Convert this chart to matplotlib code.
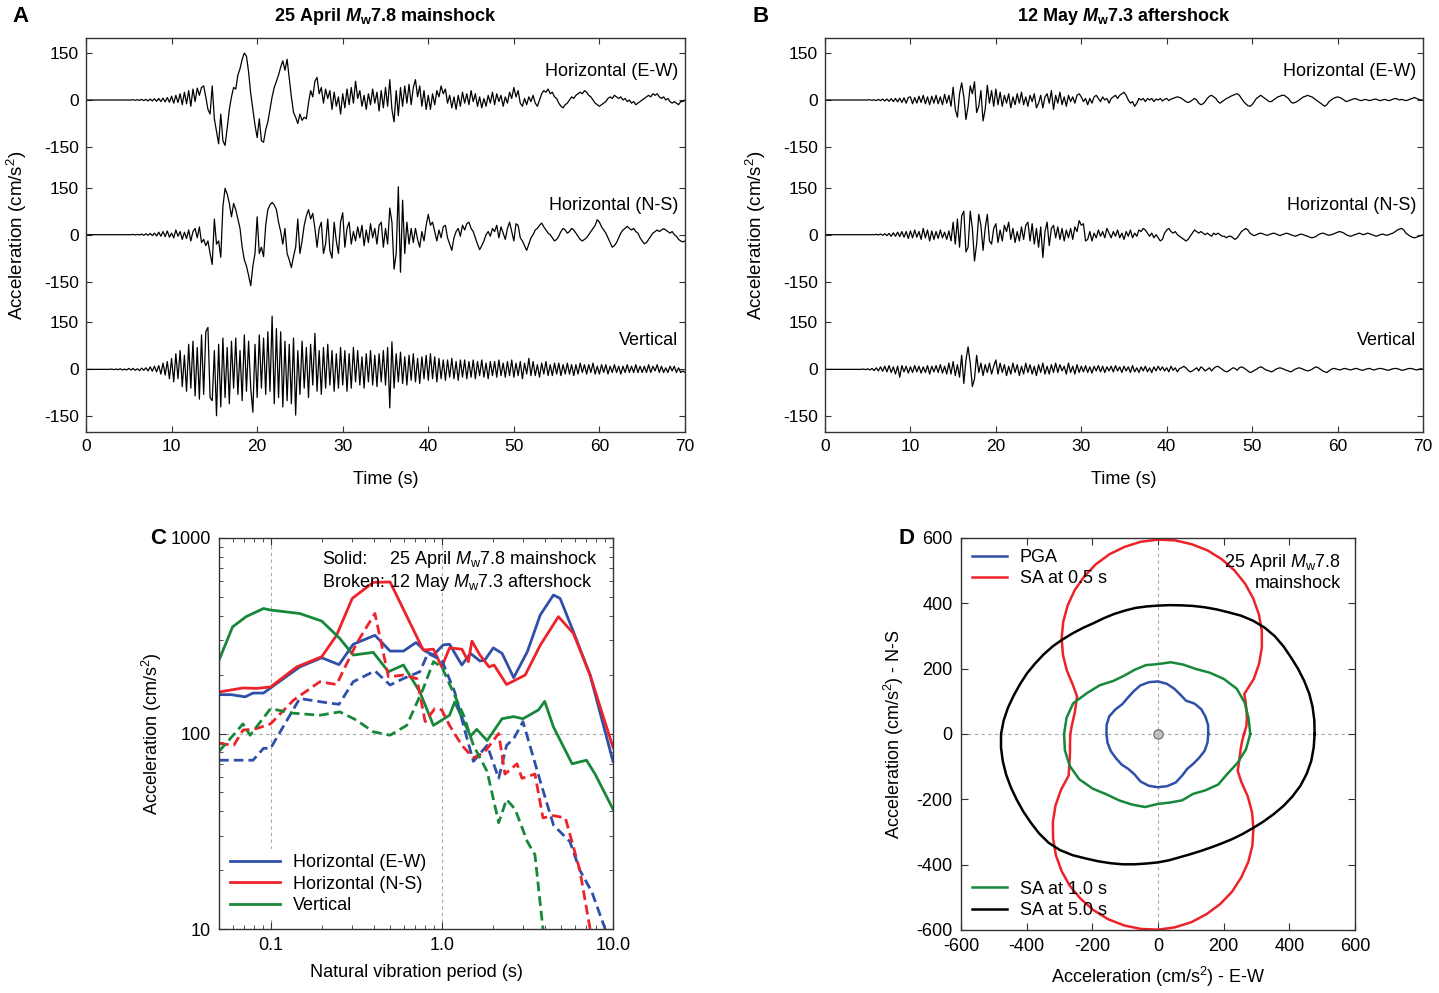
import numpy as np
import matplotlib
matplotlib.use("Agg")
import matplotlib.pyplot as plt
from matplotlib import font_manager

# fonts
names = {f.name for f in font_manager.fontManager.ttflist}
NARROW = "Liberation Sans Narrow" if "Liberation Sans Narrow" in names else "Liberation Sans"
plt.rcParams["font.family"] = ["Liberation Sans", "DejaVu Sans"]
plt.rcParams["mathtext.fontset"] = "custom"
plt.rcParams["mathtext.rm"] = "Liberation Sans"
plt.rcParams["mathtext.it"] = "Liberation Sans:italic"
plt.rcParams["mathtext.bf"] = "Liberation Sans:bold"
plt.rcParams["mathtext.bfit"] = "Liberation Sans:italic:bold"
plt.rcParams["axes.unicode_minus"] = False

BLUE = "#2f4fa8"
RED = "#ee2229"
GREEN = "#17873a"

# ---------------- accelerograms, sampled every 0.25 s from 0 to 70 s ----------------
DT = 0.25
ms_ew = [0, 0, 0, 0, 0, 0, 0, 0, 0, 0, 0, 0, 0, 0, 0, 0, 0, 0, 0, 0,
         0, 0, 1, -1, 1, -1, 2, -2, 2, -3, 3, -3, 4, -4, 5, -5, 6, -6, 8, -7,
         12, -10, 15, -8, 20, -15, 25, -12, 30, -20, 35, -5, 38, 15, 40, 45, 10, -30, -45, 45,
         -60, -100, -140, -45, -130, -145, -90, -30, 10, 40, 35, 80, 100, 130, 150, 140, 90, 20, -30, -80,
         -120, -60, -130, -135, -95, -70, -30, 10, 40, 60, 80, 105, 125, 95, 130, 70, 10, -40, -55, -75,
         -45, -65, -55, -60, -10, 30, 10, 60, 72, 20, 40, -10, 35, 5, 30, -30, 25, -20, 10, -45,
         20, -25, 35, -15, 40, -10, 60, 5, 30, -20, 15, -30, 20, -15, 35, -10, 25, -35, 30, -25,
         40, -20, 65, -30, -70, 30, -50, 40, -20, 45, -10, 50, -15, 40, 65, 10, 45, -20, 30, -30,
         15, -30, 20, -15, 30, 10, 45, 20, 35, -10, 15, -25, 10, -30, 15, -20, 25, -10, 20, -15,
         30, -5, 20, -20, 10, -25, 5, -20, 15, -10, 25, -15, 20, -5, 15, -20, 10, -10, 25, 5,
         40, 10, 30, -10, -20, 5, -15, 10, -5, 15, -10, -20, 0, 20, 30, 25, 35, 20, 25, 10,
         5, -10, -20, -25, -15, -10, 0, 10, 5, 15, 20, 25, 20, 30, 25, 15, 10, 0, -10, -15,
         -20, -15, -10, -5, 5, 10, 5, 15, 10, 5, 10, 0, 5, -5, 0, -10, -5, -15, -10, -5,
         0, 5, 10, 15, 10, 20, 15, 20, 10, 5, 10, 0, 5, -5, -10, -5, -10, -15, -5, -5,
         0]
ms_ns = [0, 0, 0, 0, 0, 0, 0, 0, 0, 0, 0, 0, 0, 0, 0, 0, 0, 0, 0, 0,
         0, 0, 1, -1, 1, -1, 2, -2, 3, -2, 4, -3, 5, -4, 8, -5, 10, -6, 12, -8,
         5, -10, 15, -5, 10, -15, 8, -12, 15, -20, 10, 20, -10, 25, -25, -15, -35, -20, -60, -95,
         50, -30, -20, -72, 90, 148, 130, 100, 57, 100, 80, 50, 20, -40, -80, -100, -130, -163, -100, -60,
         57, -60, -40, -70, 30, 80, 95, 103, 95, 80, 40, 10, -30, 20, -60, -80, -105, -70, -40, 50,
         -60, -20, 30, 60, 80, 50, 68, 20, -40, 20, 40, -60, -30, 50, -50, -75, 40, -20, -60, 40,
         70, -40, 20, 40, -30, 10, -20, 25, -10, 30, -35, 15, -25, 35, -10, 20, -30, 30, 40, -40,
         20, -30, 85, 40, -110, -60, 153, -120, 110, -60, 40, -30, 20, -25, 20, -15, -40, 10, -20, 30,
         65, 30, 40, 10, -20, 15, -10, 25, 30, -10, -30, -50, -10, 10, 20, -5, 30, 15, 35, 40,
         20, 10, -10, -30, -48, -35, -20, 0, 10, -5, 20, 10, 30, -10, 25, 5, -15, 20, 40, 10,
         -20, 35, 30, -10, -20, -35, -50, -30, -10, 0, 15, 20, 30, 37, 25, 15, 5, 0, -10, -20,
         -15, -5, 10, 20, 15, 5, 10, 20, 15, 5, -5, -15, -20, -15, -10, 0, 10, 20, 30, 48,
         40, 25, 15, 5, -10, -25, -40, -35, -25, -10, 5, 15, 20, 27, 20, 15, 20, 10, 5, -10,
         -20, -29, -25, -15, -5, 5, 10, 15, 10, 15, 19, 15, 10, 5, 10, 0, -5, -15, -20, -23,
         -20]
ms_ud = [0, 0, 0, 0, 0, 0, 0, 0, 0, 0, 0, 0, 1, -1, 1, -1, 2, -2, 1, -2,
         3, -2, 3, -3, 2, -4, 4, -3, 5, -5, 8, -6, 10, -8, 12, -15, 20, -18, 25, -30,
         35, -40, 50, -30, 60, -55, 45, -70, 80, -60, 90, -85, 70, -95, 110, -80, 120, 134, -90, -100,
         60, -148, 80, -120, 100, -90, 70, -110, 90, -60, 100, -80, 60, -100, 110, -70, 90, -60, -137, 80,
         -90, 110, -60, 100, -80, 120, -70, 170, -110, 130, -90, 120, -120, 90, -100, 80, -110, 100, -146, 60,
         -80, 90, -60, 70, -90, 80, -50, 115, -70, 60, -80, 70, -60, 80, -50, 60, -70, 50, -60, 70,
         -50, 60, -70, 50, -60, 70, -40, 60, -50, 40, -60, 50, -40, 60, -50, 45, -55, 50, -40, 60,
         -50, 70, -123, 88, -60, 50, -40, 55, -45, 40, -50, 45, -35, 50, -40, 35, -45, 40, -30, 45,
         -35, 50, -30, 40, -40, 35, -30, 30, -35, 30, -25, 35, -30, 25, -35, 30, -25, 30, -30, 25,
         -25, 30, -30, 25, -20, 30, -25, 20, -30, 25, -20, 25, -25, 30, -20, 20, -25, 25, -20, 30,
         -25, 20, -20, 25, -30, 20, -15, 35, -20, 25, -20, 15, -25, 20, -15, 25, -20, 15, -20, 20,
         -15, 20, -20, 15, -15, 20, -15, 15, -20, 15, -15, 20, -10, 15, -15, 15, -10, 20, -15, 10,
         -15, 15, -10, 15, -15, 10, -10, 15, -10, 10, -15, 10, -10, 15, -10, 10, -10, 15, -10, 10,
         -10, 10, -10, 15, -10, 10, -5, 15, -10, 10, -10, 5, -10, 10, -5, 10, -10, 5, -10, -5,
         -10]
as_ew = [0, 0, 0, 0, 0, 0, 0, 0, 0, 0, 0, 0, 0, 0, 0, 0, 0, 0, 0, 0,
         0, 1, -1, 1, -2, 2, -2, 3, -3, 3, -4, 4, -5, 5, -6, 6, -8, 7, -10, 8,
         10, -12, 8, -10, 12, -8, 15, -12, 10, -15, 12, -10, 15, -12, 10, -15, 18, -10, 15, -20,
         41, -30, -55, 20, 55, 10, -62, -20, 45, 20, 58, -40, -20, 30, -67, -30, 47, -10, 30, -20,
         35, -15, 25, -20, 15, -10, 20, -25, 10, -15, 20, -10, 25, -15, 10, -20, 15, -5, 20, -25,
         -10, 15, -25, 10, 20, -10, 30, -30, 15, -10, 25, -15, 10, -20, 15, -5, 10, -10, 15, 20,
         10, -5, 5, -15, 5, -10, 10, 15, 5, -5, 10, 0, 5, -10, 5, 10, 15, 5, 15, 20,
         25, 15, 0, -10, -5, -20, -10, 5, 0, 5, -5, 5, 0, 5, -5, 3, 0, 5, -3, 2,
         5, -2, 3, 5, 8, 10, 8, 5, 0, -5, -8, -5, 0, 5, 0, -10, -15, -12, -5, 5,
         12, 15, 10, 5, -5, -10, -5, 0, 5, 8, 12, 15, 18, 20, 15, 5, -5, -12, -18, -20,
         -15, -5, 5, 10, 15, 10, 5, 0, -5, -5, 0, 5, 10, 12, 15, 15, 10, 5, -5, -10,
         -8, -5, 0, 5, 10, 12, 15, 12, 10, 5, 0, -5, -10, -15, -20, -15, -5, 0, 5, 8,
         10, 8, 5, 0, -5, -3, 0, 2, 5, 3, 0, -2, 0, 2, 0, -2, 0, 2, 3, 0,
         -2, 0, 2, 0, -2, 0, 3, 5, 3, 0, 2, 0, -2, 0, 3, 5, 8, 5, 2, 0,
         0]
as_ns = [0, 0, 0, 0, 0, 0, 0, 0, 0, 0, 0, 0, 0, 0, 0, 0, 0, 0, 0, 0,
         0, 0, 0, 0, 1, -1, 2, -2, 3, -3, 4, -5, 6, -5, 8, -6, 10, -8, 10, -12,
         12, -10, 15, -8, 10, -15, 20, -10, 15, -20, 12, -15, 10, -12, 15, -10, 8, -15, 12, -20,
         40, -30, 50, -40, 60, 75, -55, -40, 75, 20, -84, -30, 65, 30, -50, 20, 65, -20, -30, 20,
         35, -25, 15, -20, 30, 10, 40, -15, 20, -25, 10, -20, 25, -15, 30, 40, -20, 35, -30, 20,
         -40, 25, -73, 10, 40, -35, 20, 30, -10, 25, -15, 20, -20, 15, -10, 20, -15, 25, 10, 45,
         30, 35, -20, -15, 10, -20, 5, -10, 15, -5, 10, -10, 20, 5, -10, 10, -5, 15, -10, 5,
         -15, 10, -5, 15, -10, 5, -5, 15, 10, 20, 15, 5, -5, 5, -10, 0, -10, -20, -15, 5,
         15, 20, 10, 5, 10, 0, -5, -10, -15, -20, -15, -5, 5, 15, 10, 5, 10, 5, 0, 5,
         0, -5, 5, 0, 5, 0, -5, -5, -10, -5, -5, -10, -15, -10, 0, 10, 15, 20, 15, 5,
         0, -3, 0, 3, 5, 3, 0, -2, 0, 3, 5, 3, 0, -3, 0, 2, 5, 3, 0, -2,
         -5, -3, 0, 2, 0, -3, -5, -8, -10, -8, -5, 0, 3, 5, 3, 0, -2, 0, 2, 5,
         8, 10, 8, 5, 0, -3, -5, -3, 0, 2, 5, 3, 0, 2, 5, 3, 0, -2, -5, -3,
         0, 2, 0, -2, 0, 3, 5, 10, 15, 18, 20, 15, 5, 0, -5, -8, -10, -8, -5, -3,
         0]
as_ud = [0, 0, 0, 0, 0, 0, 0, 0, 0, 0, 0, 0, 0, 0, 0, 0, 0, 0, 1, -1,
         2, -2, 3, -4, 5, -5, 8, -6, 10, -8, 12, -10, 8, -15, 10, -25, 12, -8, 10, -12,
         8, -10, 12, -8, 10, -12, 8, -10, 12, -15, 10, -8, 12, -10, 15, -12, 10, -15, 20, -15,
         25, -20, 15, -25, 45, -45, 30, 72, 20, -55, -30, 45, -10, 20, -20, 15, -10, 20, -15, 10,
         30, -15, 20, -10, 15, -20, 10, -15, 20, -10, 15, -20, 10, -15, 20, -10, 15, -15, 10, -20,
         15, -10, 20, -15, 10, -15, 15, -10, 20, -10, 15, -5, 10, -15, 20, -10, 10, -15, 15, -10,
         10, -8, 12, -10, 8, -12, 10, -5, 12, -8, 10, -10, 8, -5, 10, -8, 12, -5, 8, -10,
         10, -5, 8, -10, 12, -8, 5, -10, 8, -5, 10, -8, 5, -10, 8, -5, 10, -3, 8, -5,
         5, -8, 10, -3, 5, -8, 3, 5, 10, 5, -3, -8, -5, 0, 5, -5, 8, 3, -5, 0,
         5, -5, 3, 8, 10, 5, 0, -5, -8, -5, 0, 5, 3, -3, 5, 8, 5, 0, -5, -10,
         -8, -3, 0, 5, 8, 5, 0, -3, -5, -8, -5, 0, 3, 5, 3, 0, -3, -5, -8, -5,
         0, 3, 5, 3, 0, -3, -5, -3, 0, 5, 8, 5, 0, -5, -8, -10, -5, 0, 3, 2,
         0, -2, 0, 3, 2, 0, -2, 0, 2, 3, 0, -2, -3, 0, 2, 3, 0, -2, 0, 2,
         3, 2, 0, -2, -3, 0, 2, 3, 2, 0, -3, -2, 0, 2, 3, 2, 0, -2, 0, 2,
         0]

comp_labels = ["Horizontal (E-W)", "Horizontal (N-S)", "Vertical"]
offsets = [860, 430, 0]

# ---------------- response spectra (period s, acceleration cm/s2) ----------------
T_ms_ew = [0.05, 0.059, 0.071, 0.079, 0.091, 0.1, 0.148, 0.199, 0.251, 0.304, 0.407, 0.499, 0.597, 0.708,
           0.80, 0.894, 1.02, 1.11, 1.31, 1.47, 1.67, 1.78, 2.0, 2.25, 2.63, 3.16, 3.76, 4.49, 4.91, 5.87, 7.35, 10.0]
A_ms_ew = [158, 158, 154, 161, 161, 171, 219, 244, 225, 286, 318, 264, 264, 292,
           264, 252, 284, 286, 224, 257, 235, 237, 274, 257, 193, 262, 404, 511, 491, 332, 199, 72]
T_ms_ns = [0.05, 0.069, 0.083, 0.1, 0.142, 0.199, 0.243, 0.30, 0.398, 0.499, 0.78, 0.894, 1.0, 1.11,
           1.31, 1.43, 1.5, 1.67, 1.89, 2.02, 2.39, 3.07, 3.76, 4.80, 5.87, 7.35, 10.0]
A_ms_ns = [163, 171, 170, 173, 219, 247, 318, 491, 593, 596, 267, 270, 219, 274,
           270, 233, 297, 252, 219, 224, 178, 199, 283, 396, 325, 199, 85]
T_ms_ud = [0.05, 0.060, 0.072, 0.091, 0.1, 0.148, 0.199, 0.254, 0.304, 0.398, 0.488, 0.597, 0.745, 0.894,
           1.11, 1.19, 1.47, 1.60, 1.84, 2.25, 2.63, 2.98, 3.67, 3.99, 4.49, 5.77, 7.0, 7.86, 10.0]
A_ms_ud = [237, 351, 396, 436, 428, 411, 376, 306, 252, 260, 207, 224, 163, 110,
           124, 145, 97, 105, 92, 119, 122, 119, 132, 146, 108, 70, 73, 62, 41]
T_as_ew = [0.05, 0.079, 0.091, 0.1, 0.148, 0.199, 0.251, 0.304, 0.407, 0.499, 0.597, 0.745, 0.83, 1.0,
           1.19, 1.37, 1.53, 1.84, 2.15, 2.39, 2.63, 2.98, 3.76, 4.49, 5.6, 6.4, 7.52, 9.0]
A_as_ew = [73, 73, 84, 84, 151, 145, 141, 184, 209, 177, 191, 207, 257, 237,
           163, 102, 72, 87, 59, 87, 94, 115, 57, 34, 28, 20, 15.5, 10]
T_as_ns = [0.05, 0.061, 0.069, 0.083, 0.1, 0.136, 0.194, 0.243, 0.318, 0.407, 0.488, 0.597, 0.715, 0.80,
           0.91, 1.0, 1.11, 1.31, 1.53, 1.77, 2.15, 2.34, 2.75, 2.94, 3.5, 3.9, 4.49, 5.27, 6.4, 7.35]
A_as_ns = [89, 87, 104, 106, 112, 148, 184, 178, 289, 411, 195, 199, 191, 115,
           134, 132, 110, 87, 75, 80, 100, 62, 70, 59, 62, 37, 38, 37, 20, 10]
T_as_ud = [0.05, 0.063, 0.069, 0.076, 0.1, 0.136, 0.194, 0.254, 0.318, 0.398, 0.499, 0.624, 0.78, 0.894,
           1.0, 1.14, 1.34, 1.53, 1.84, 2.15, 2.39, 2.68, 3.16, 3.5, 3.9]
A_as_ud = [81, 102, 112, 98, 134, 127, 124, 129, 117, 102, 98, 110, 170, 233,
           219, 170, 124, 87, 64, 35, 46, 41, 28, 24, 10]

# ---------------- rotated components, panel D (radius in cm/s2 per azimuth) ----------------
ang_10 = np.arange(0, 360, 10)
ang_5 = np.arange(0, 360, 5)
r_pga = [153, 155, 154, 152, 145, 133, 138, 147, 156, 161, 161, 158, 150, 144, 142, 150, 158, 159,
         157, 156, 153, 148, 145, 140, 143, 155, 161, 163, 162, 158, 147, 139, 141, 145, 151, 153]
r_sa10 = [281, 280, 281, 277, 262, 245, 230, 226, 223, 214, 214, 209, 206, 212, 232, 250, 275, 283,
          286, 288, 286, 277, 260, 242, 235, 230, 227, 214, 213, 216, 212, 225, 240, 244, 258, 272]
r_sa05 = [262, 270, 275, 279, 284, 290, 337, 376, 413, 447, 478, 506, 531, 552, 569, 582, 590, 595,
          595, 591, 582, 570, 553, 532, 508, 480, 449, 415, 378, 339, 299, 272, 266, 262, 262, 264,
          267, 269, 272, 278, 288, 300, 341, 381, 418, 452, 484, 512, 537, 557, 574, 587, 595, 599,
          599, 594, 585, 571, 554, 533, 507, 479, 447, 411, 374, 334, 293, 268, 262, 258, 256, 257]
r_sa50 = [477, 478, 478, 477, 474, 471, 468, 467, 465, 460, 452, 442, 430, 421, 413, 406, 400, 396,
          393, 392, 392, 391, 391, 391, 392, 397, 403, 410, 418, 425, 432, 440, 447, 455, 464, 472,
          478, 480, 480, 479, 477, 475, 474, 473, 473, 471, 464, 453, 440, 430, 421, 413, 405, 398,
          393, 388, 383, 381, 381, 383, 387, 393, 400, 408, 418, 429, 441, 452, 462, 469, 474, 476]

fig = plt.figure(figsize=(14.39, 9.93), dpi=100)
W, H = 1439, 993


def box(l, t, r, b):
    return [l / W, 1 - b / H, (r - l) / W, (b - t) / H]


def style(ax):
    for s in ax.spines.values():
        s.set_color("#333333")
        s.set_linewidth(1.0)
    ax.tick_params(which="both", direction="in", top=True, right=True, colors="#333333",
                   labelcolor="black")


# ---------------- A and B ----------------
traces = [[ms_ew, ms_ns, ms_ud], [as_ew, as_ns, as_ud]]
titles = [r"25 April $\mathbfit{M}_{\mathbf{w}}$7.8 mainshock", r"12 May $\mathbfit{M}_{\mathbf{w}}$7.3 aftershock"]
boxes = [box(86, 38, 685, 432), box(825, 38, 1423, 432)]
for k in range(2):
    ax = fig.add_axes(boxes[k])
    style(ax)
    for vals, off, lab in zip(traces[k], offsets, comp_labels):
        v = np.array(vals, dtype=float)
        t = np.arange(len(v)) * DT
        ax.plot(t, v + off, color="black", lw=0.9)
        ax.text(69.2, off + 92, lab, ha="right", va="center", fontsize=13, family=NARROW)
    ax.set_xlim(0, 70)
    ax.set_ylim(-200, 1058)
    ax.set_xticks(range(0, 71, 10))
    yt = [o + d for o in offsets for d in (150, 0, -150)]
    ax.set_yticks(yt)
    ax.set_yticklabels(["150", "0", "-150"] * 3)
    ax.tick_params(labelsize=12.5, length=4, pad=5)
    for lb in ax.get_xticklabels() + ax.get_yticklabels():
        lb.set_family(NARROW)
    ax.set_xlabel("Time (s)", fontsize=13, family=NARROW)
    ax.xaxis.set_label_coords(0.5, -0.1)
    ax.set_ylabel("Acceleration (cm/s$^2$)", fontsize=13.5, family=NARROW)
    ax.yaxis.set_label_coords(-0.095, 0.5)
    ax.set_title(titles[k], fontsize=13, fontweight="bold", family=NARROW, pad=12)

fig.text(12 / W, 1 - 17 / H, "A", fontsize=16, fontweight="bold", va="center")
fig.text(752 / W, 1 - 17 / H, "B", fontsize=16, fontweight="bold", va="center")

# ---------------- C ----------------
DASH = (0, (3.5, 1.8))
ax = fig.add_axes(box(219, 538, 613, 929))
style(ax)
ax.set_xscale("log")
ax.set_yscale("log")
ax.set_xlim(0.05, 10)
ax.set_ylim(10, 1000)
for xv in (0.1, 1.0):
    ax.axvline(xv, color="#aaaaaa", lw=0.8, ls=(0, (3, 3)), zorder=0)
ax.axhline(100, color="#aaaaaa", lw=0.8, ls=(0, (3, 3)), zorder=0)
h1, = ax.plot(T_ms_ew, A_ms_ew, color=BLUE, lw=2, label="Horizontal (E-W)")
h2, = ax.plot(T_ms_ns, A_ms_ns, color=RED, lw=2, label="Horizontal (N-S)")
h3, = ax.plot(T_ms_ud, A_ms_ud, color=GREEN, lw=2, label="Vertical")
ax.plot(T_as_ew, A_as_ew, color=BLUE, lw=2, ls=DASH)
ax.plot(T_as_ns, A_as_ns, color=RED, lw=2, ls=DASH)
ax.plot(T_as_ud, A_as_ud, color=GREEN, lw=2, ls=DASH)
ax.set_xticks([0.1, 1.0, 10.0])
ax.set_xticklabels(["0.1", "1.0", "10.0"])
ax.set_yticks([10, 100, 1000])
ax.set_yticklabels(["10", "100", "1000"])
ax.tick_params(which="major", labelsize=13, length=5, pad=6)
ax.tick_params(which="minor", length=3)
ax.set_xlabel("Natural vibration period (s)", fontsize=13)
ax.xaxis.set_label_coords(0.5, -0.09)
ax.set_ylabel("Acceleration (cm/s$^2$)", fontsize=13)
ax.yaxis.set_label_coords(-0.14, 0.5)
ax.text(0.261, 0.944, "Solid:", transform=ax.transAxes, fontsize=13, va="center")
ax.text(0.431, 0.944, r"25 April $\mathit{M}_{\mathrm{w}}$7.8 mainshock", transform=ax.transAxes,
        fontsize=13, va="center")
ax.text(0.261, 0.887, r"Broken: 12 May $\mathit{M}_{\mathrm{w}}$7.3 aftershock", transform=ax.transAxes,
        fontsize=13, va="center")
leg = ax.legend(handles=[h1, h2, h3], loc="lower left", bbox_to_anchor=(0.0, 0.01), fontsize=13,
                frameon=True, facecolor="white", edgecolor="none", framealpha=1, handlelength=2.8,
                handletextpad=0.7, labelspacing=0.25, borderpad=0.3, borderaxespad=0.3)
fig.text(150 / W, 1 - 538 / H, "C", fontsize=16, fontweight="bold", va="center")

# ---------------- D ----------------
ax = fig.add_axes(box(961, 538, 1355, 930))
style(ax)
ax.axvline(0, color="#aaaaaa", lw=0.8, ls=(0, (3, 3)), zorder=0)
ax.axhline(0, color="#aaaaaa", lw=0.8, ls=(0, (3, 3)), zorder=0)
curves = [(ang_10, r_pga, BLUE, "PGA"), (ang_5, r_sa05, RED, "SA at 0.5 s"),
          (ang_10, r_sa10, GREEN, "SA at 1.0 s"), (ang_5, r_sa50, "black", "SA at 5.0 s")]
hd = []
for a, r, c, lab in curves:
    th = np.deg2rad(np.append(a, a[0]))
    rr = np.append(r, r[0])
    h, = ax.plot(rr * np.cos(th), rr * np.sin(th), color=c, lw=1.8, label=lab)
    hd.append(h)
ax.scatter([0], [0], s=45, color="#c0c0c0", edgecolor="#666666", lw=0.8, zorder=5)
ax.set_xlim(-600, 600)
ax.set_ylim(-600, 600)
ax.set_xticks(range(-600, 601, 200))
ax.set_yticks(range(-600, 601, 200))
ax.tick_params(labelsize=13, length=5, pad=6)
ax.set_xlabel("Acceleration (cm/s$^2$) - E-W", fontsize=13)
ax.xaxis.set_label_coords(0.5, -0.09)
ax.set_ylabel("Acceleration (cm/s$^2$) - N-S", fontsize=13)
ax.yaxis.set_label_coords(-0.14, 0.5)
leg1 = ax.legend(handles=hd[:2], loc="upper left", bbox_to_anchor=(0.0, 1.0), fontsize=13,
                 frameon=False, handlelength=1.95, handletextpad=0.7, labelspacing=0.25,
                 borderpad=0.3, borderaxespad=0.3)
ax.add_artist(leg1)
ax.legend(handles=hd[2:], loc="lower left", bbox_to_anchor=(0.0, 0.0), fontsize=13,
          frameon=False, handlelength=1.95, handletextpad=0.7, labelspacing=0.25,
          borderpad=0.3, borderaxespad=0.3)
ax.text(0.964, 0.965, "25 April $\\mathit{M}_{\\mathrm{w}}$7.8\nmainshock", transform=ax.transAxes,
        fontsize=13, ha="right", va="top", multialignment="right")
fig.text(898 / W, 1 - 538 / H, "D", fontsize=16, fontweight="bold", va="center")

fig.savefig("out.png", dpi=100)
